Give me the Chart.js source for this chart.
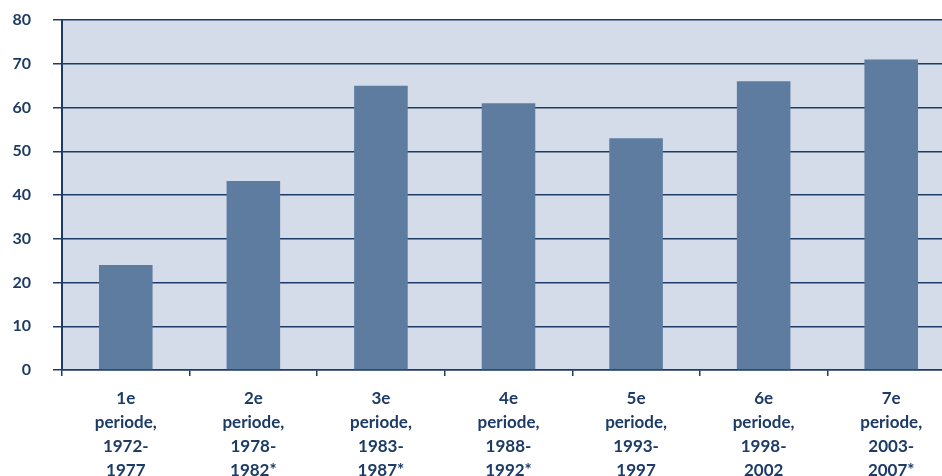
<!DOCTYPE html>
<html>
<head>
<meta charset="utf-8">
<script src="https://cdn.jsdelivr.net/npm/chart.js@4.4.1/dist/chart.umd.min.js"></script>
<style>
  html, body { margin: 0; padding: 0; background: #fff; overflow: hidden; }
  #wrap { width: 955px; height: 476px; }
</style>
</head>
<body>
<div id="wrap"><canvas id="chart"></canvas></div>
<script>
// ── Data ──────────────────────────────────────────────────────
const categories = [
  ['1e', 'periode,', '1972-', '1977'],
  ['2e', 'periode,', '1978-', '1982*'],
  ['3e', 'periode,', '1983-', '1987*'],
  ['4e', 'periode,', '1988-', '1992*'],
  ['5e', 'periode,', '1993-', '1997'],
  ['6e', 'periode,', '1998-', '2002'],
  ['7e', 'periode,', '2003-', '2007*'],
];
const values = [24, 43.2, 65, 61, 53, 66, 71];
const yTicks = [0, 10, 20, 30, 40, 50, 60, 70, 80];

const NAVY = '#1c3b66';
const BAR  = '#5e7ba0';
const PLOT = '#d5dce9';

// ── Plot background ───────────────────────────────────────────
const plotBg = {
  id: 'plotBg',
  beforeDraw(chart) {
    const { ctx, chartArea: a } = chart;
    ctx.save();
    ctx.fillStyle = PLOT;
    ctx.fillRect(a.left, a.top, a.right - a.left, a.bottom - a.top);
    ctx.restore();
  },
};

new Chart(document.getElementById('chart'), {
  type: 'bar',
  data: {
    labels: categories,
    datasets: [{
      data: values,
      backgroundColor: BAR,
      borderWidth: 0,
      barPercentage: 0.42,
      categoryPercentage: 1,
    }],
  },
  options: {
    responsive: true,
    maintainAspectRatio: false,
    animation: false,
    layout: { padding: 0 },
    plugins: { legend: { display: false }, tooltip: { enabled: false } },
    scales: {
      x: {
        offset: true,
        grid: { offset: true, drawOnChartArea: false, color: NAVY, tickLength: 6, lineWidth: 1.5 },
        border: { color: NAVY, width: 1.5 },
        ticks: {
          color: NAVY,
          padding: 11,
          maxRotation: 0,
          autoSkip: false,
          font: { family: 'Lato', size: 17, weight: 'bold', lineHeight: 1.41 },
        },
        afterFit: (s) => { s.height = 106; s.paddingLeft = 0; s.paddingRight = 0; },
      },
      y: {
        min: 0,
        max: 80,
        afterBuildTicks: (s) => { s.ticks = yTicks.map((v) => ({ value: v })); },
        grid: { color: NAVY, lineWidth: 1.5, tickLength: 9 },
        border: { color: NAVY, width: 2 },
        ticks: {
          color: NAVY,
          padding: 22,
          font: { family: 'Lato', size: 16, weight: 'bold' },
        },
        afterFit: (s) => { s.width = 62; s.paddingTop = 20; s.paddingBottom = 0; },
      },
    },
  },
  plugins: [plotBg],
});
</script>
</body>
</html>
